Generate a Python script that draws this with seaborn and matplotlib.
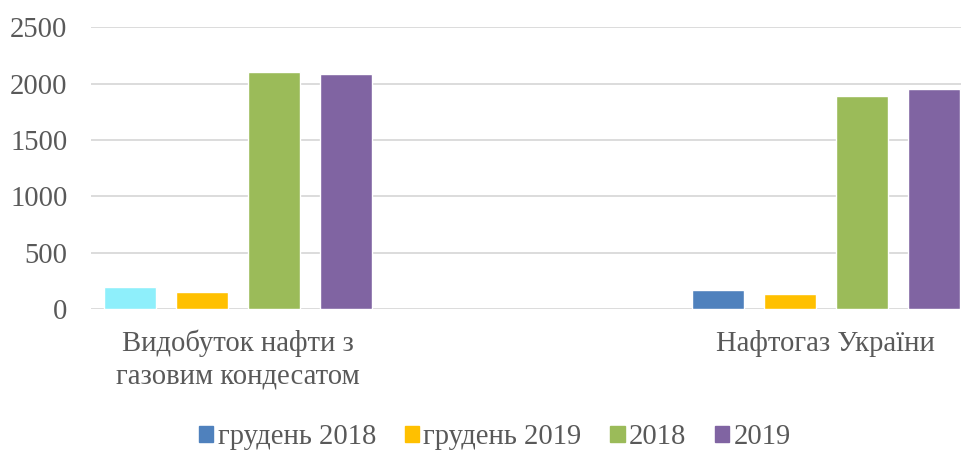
import pandas as pd
import matplotlib
matplotlib.use("Agg")
import matplotlib.pyplot as plt
import seaborn as sns
from matplotlib.patches import Patch

# --- data ---
categories = ["Видобуток нафти з\nгазовим кондесатом", "Нафтогаз України"]
series = ["грудень 2018", "грудень 2019", "2018", "2019"]
values = {
    "грудень 2018": [195, 169],
    "грудень 2019": [148, 133],
    "2018": [2105, 1891],
    "2019": [2087, 1951],
}
colors = ["#4F81BD", "#FFC000", "#9BBB59", "#8064A2"]
first_bar_color = "#8EEFFB"  # the first bar is drawn cyan in the source chart
yticks = [0, 500, 1000, 1500, 2000, 2500]

rows = []
for s in series:
    for c, v in zip(categories, values[s]):
        rows.append({"category": c, "series": s, "value": v})
df = pd.DataFrame(rows)

sns.set_style("white")
plt.rcParams["font.family"] = ["Liberation Serif", "DejaVu Serif"]
text_color = "#595959"
fs = 20.6

fig = plt.figure(figsize=(9.61, 4.53), dpi=100)
ax = fig.add_axes([0.0947, 0.318, 0.9053, 0.622])

# empty middle slot keeps the wide spacing between the two groups
order = [categories[0], " ", categories[1]]
sns.barplot(data=df, x="category", y="value", hue="series", order=order,
            hue_order=series, palette=colors, width=0.98, gap=0.28,
            saturation=1, ax=ax, legend=False)

# recolor the first bar (cyan in the reference)
ax.patches[0].set_facecolor(first_bar_color)

ax.set_xlim(-0.5, 2.46)
ax.set_ylim(0, 2500)
ax.set_yticks(yticks)
ax.yaxis.grid(True, color="#D9D9D9", linewidth=1.3)
ax.set_axisbelow(True)
for sp in ax.spines.values():
    sp.set_visible(False)
ax.tick_params(axis="both", length=0, labelsize=fs, colors=text_color)
ax.tick_params(axis="y", pad=17)
ax.tick_params(axis="x", pad=15)
ax.set_xticks([0, 2])
ax.set_xticklabels(categories, fontsize=fs, color=text_color, linespacing=1.3)
ax.set_xlabel("")
ax.set_ylabel("")

handles = [Patch(facecolor=c, edgecolor=c) for c in colors]
fig.legend(handles, series, loc="center", bbox_to_anchor=(0.515, 0.035),
           ncol=4, frameon=False, fontsize=fs, labelcolor=text_color,
           handlelength=0.5, handleheight=0.5, handletextpad=0.15,
           columnspacing=1.0)

fig.savefig("out.png", dpi=100)
